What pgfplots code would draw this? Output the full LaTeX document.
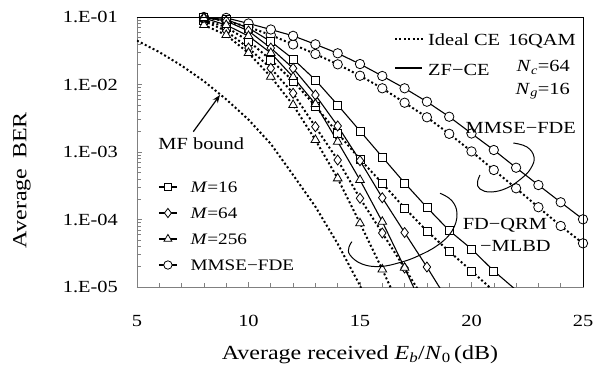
\documentclass[border=0pt]{standalone}
\usepackage{fontspec}
\setmainfont{Liberation Serif}[FakeStretch=1.2]
\usepackage{pgfplots}
\pgfplotsset{compat=1.18}
\usetikzlibrary{arrows.meta}
\pgfplotstableread{
x y
8 0.1
9 0.097
10 0.0802
11 0.0653
12 0.0526
13 0.0394
14 0.0290
15 0.0201
16 0.01337
17 0.00879
18 0.00556
19 0.00333
20 0.00188
21 0.00107
22 5.85e-4
23 3.24e-4
24 1.80e-4
25 1.007e-4
}\mmsezf
\pgfplotstableread{
x y
8 0.0984
9 0.0873
10 0.0711
11 0.0541
12 0.0392
13 0.0283
14 0.0199
15 0.01349
16 0.00879
17 0.00537
18 0.00327
19 0.00186
20 0.00102
21 5.41e-4
22 2.90e-4
23 1.52e-4
24 8.02e-5
25 4.44e-5
}\mmseid
\pgfplotstableread{
x y
8 0.0984
9 0.0918
10 0.0687
11 0.0434
12 0.0239
13 0.01167
14 0.00497
15 0.00205
16 8.43e-4
17 3.48e-4
18 1.51e-4
19 6.87e-5
20 3.66e-5
21 1.73e-5
}\sqzf
\pgfplotstableread{
x y
8 0.0903
9 0.0711
10 0.0441
11 0.0231
12 0.01127
13 0.00480
14 0.00191
15 7.80e-4
16 3.44e-4
17 1.48e-4
18 6.76e-5
19 3.36e-5
20 1.73e-5
}\sqid
\pgfplotstableread{
x y
8 0.0984
9 0.0873
10 0.0621
11 0.0347
12 0.01738
13 0.00699
14 0.00243
15 7.43e-4
16 2.10e-4
17 6.41e-5
18 1.98e-5
}\dizf
\pgfplotstableread{
x y
8 0.0873
9 0.0621
10 0.0347
11 0.01738
12 0.00741
13 0.00237
14 7.60e-4
15 2.06e-4
16 6.31e-5
17 1.91e-5
}\diid
\pgfplotstableread{
x y
8 0.0967
9 0.0761
10 0.0523
11 0.0293
12 0.01291
13 0.00514
14 0.00142
15 3.85e-4
16 9.27e-5
17 1.93e-5
}\trzf
\pgfplotstableread{
x y
8 0.0761
9 0.0541
10 0.0293
11 0.01306
12 0.00497
13 0.00151
14 4.07e-4
15 8.79e-5
16 1.82e-5
}\trid
\pgfplotstableread{
x y
5 0.0447
6 0.0302
7 0.01905
8 0.01122
9 0.00603
10 0.00302
11 0.00132
12 4.57e-4
13 1.55e-4
14 4.37e-5
15 1.05e-5
15.5 4.0e-6
}\mfb
\begin{document}
\begin{tikzpicture}
\pgfplotsset{
  zfline/.style={black, solid, line width=1.1pt, mark options={solid, fill=white, line width=0.8pt}},
  idline/.style={black, line width=2pt, dash pattern=on 2pt off 2.4pt, mark options={solid, fill=white, line width=0.8pt}},
}
\begin{axis}[
  at={(0,0)}, anchor=south west,
  scale only axis, width=446pt, height=270pt,
  xmin=5, xmax=25, ymode=log, ymin=1e-5, ymax=1e-1,
  axis line style={draw=gray, line width=0.8pt},
  xtick={5,10,...,25}, minor x tick num=4,
  ytick={1e-5,1e-4,1e-3,1e-2,1e-1},
  yticklabels={1.E-05,1.E-04,1.E-03,1.E-02,1.E-01},
  xtick pos=left, ytick pos=left,
  tick align=inside, tick style={gray, line width=0.6pt},
  major tick length=5pt, minor tick length=4pt,
  /pgf/number format/assume math mode=true,
  tick label style={font=\fontsize{17}{20}\selectfont},
  xticklabel style={anchor=base, yshift=-39.7pt},
  yticklabel style={anchor=east, inner sep=0pt, xshift=-19pt},
  xlabel={Average received \textit{E}\textsubscript{\textit{b}}/\textit{N}\textsubscript{0}\,(dB)},
  xlabel style={at={(axis description cs:0.5,0)}, anchor=base, yshift=-72pt, font=\fontsize{20}{24}\selectfont},
  ylabel={Average\enspace BER},
  ylabel style={at={(axis description cs:-0.258,0.396)}, anchor=center, font=\fontsize{20}{24}\selectfont},
  legend style={at={(axis description cs:0.0478,0.3907)}, anchor=north west, draw=none, fill=none,
    inner sep=0pt, outer sep=0pt, row sep=15pt, font=\fontsize{16}{19}\selectfont,
    nodes={inner sep=0pt, text height=11pt, text depth=0pt},
    /tikz/every odd column/.append style={column sep=13pt}},
  legend cell align=left,
  legend image code/.code={\draw[black, solid, line width=1.2pt] (0pt,0pt) -- (18pt,0pt); \draw[mark repeat=2,mark phase=2,#1, draw=none] plot coordinates {(0pt,0pt) (9pt,0pt) (18pt,0pt)};},
]
\addlegendimage{zfline, mark=square*, mark size=3.6pt}
\addlegendentry{\textit{M}=16}
\addlegendimage{zfline, mark=diamond*, mark size=4.6pt}
\addlegendentry{\textit{M}=64}
\addlegendimage{zfline, mark=triangle*, mark size=4.6pt}
\addlegendentry{\textit{M}=256}
\addlegendimage{zfline, mark=*, mark size=4.2pt}
\addlegendentry{MMSE−FDE}

% MF bound
\addplot[forget plot, black, line width=2pt, dash pattern=on 2pt off 2.4pt, no marks] table {\mfb};
% ideal CE (dotted)
\addplot[forget plot, idline, mark=*, mark size=4.7pt] table {\mmseid};
\addplot[forget plot, idline, mark=square*, mark size=4pt] table {\sqid};
\addplot[forget plot, idline, no marks] coordinates {(20,1.73e-5) (21,8.7e-6)};
\addplot[forget plot, idline, mark=diamond*, mark size=5pt] table {\diid};
\addplot[forget plot, idline, no marks] coordinates {(17,1.91e-5) (18,5.6e-6)};
\addplot[forget plot, idline, mark=triangle*, mark size=5pt] table {\trid};
\addplot[forget plot, idline, no marks] coordinates {(16,1.82e-5) (17,3.5e-6)};
% ZF-CE (solid)
\addplot[forget plot, zfline, mark=*, mark size=4.7pt] table {\mmsezf};
\addplot[forget plot, zfline, mark=square*, mark size=4pt] table {\sqzf};
\addplot[forget plot, zfline, no marks] coordinates {(21,1.73e-5) (22,9.0e-6)};
\addplot[forget plot, zfline, mark=diamond*, mark size=5pt] table {\dizf};
\addplot[forget plot, zfline, no marks] coordinates {(18,1.98e-5) (19,5.8e-6)};
\addplot[forget plot, zfline, mark=triangle*, mark size=5pt] table {\trzf};
\addplot[forget plot, zfline, no marks] coordinates {(17,1.93e-5) (18,3.7e-6)};
\end{axis}
\begin{scope}[x=1pt, y=-1pt, shift={(-137pt,287pt)}]
  \draw[black, line width=0.9pt] (137,17) -- (583,17) -- (583,287);
  \draw[black, line width=2pt, dash pattern=on 2pt off 2.4pt] (395,39.3) -- (423,39.3);
  \draw[black, line width=2pt] (395,68.3) -- (422,68.3);
  \begin{scope}[every node/.style={inner sep=0pt, font=\fontsize{17}{20}\selectfont}]
    \node[anchor=base west] at (428,45.5) {Ideal CE};
    \node[anchor=base east] at (576,45.5) {16QAM};
    \node[anchor=base west] at (428,75.5) {ZF−CE};
    \node[anchor=base east] at (570,71.5) {\textit{N}\textsubscript{\textit{c}}=64};
    \node[anchor=base east] at (570,94.3) {\textit{N}\textsubscript{\textit{g}}=16};
    \node[anchor=base east] at (576,134) {MMSE−FDE};
    \node[anchor=base west] at (462.7,230) {FD−QRM};
    \node[anchor=base west] at (480,251) {−MLBD};
    \node[anchor=base west] at (158.3,150) {MF bound};
  \end{scope}
  \draw[-{Stealth[length=8pt,width=6pt]}, line width=1.2pt] (193.3,131.7) -- (220,95);
  \draw[line width=1pt] plot[smooth, tension=0.7] coordinates {(513.3,143) (527,147) (534,157) (531,168) (522,178) (507,188) (491,192) (480,189) (477.5,182.5) (480,175)};
  \draw[line width=1pt] plot[smooth, tension=0.7] coordinates {(440,193.3) (451.7,200.5) (457,214) (452,231) (438,245) (418,256) (400,262.5) (380,266.5) (362,264) (350,255) (349,247) (352,241.7)};
  \pgfresetboundingbox
  \path (0,0) rectangle (600,367);
\end{scope}
\end{tikzpicture}
\end{document}
